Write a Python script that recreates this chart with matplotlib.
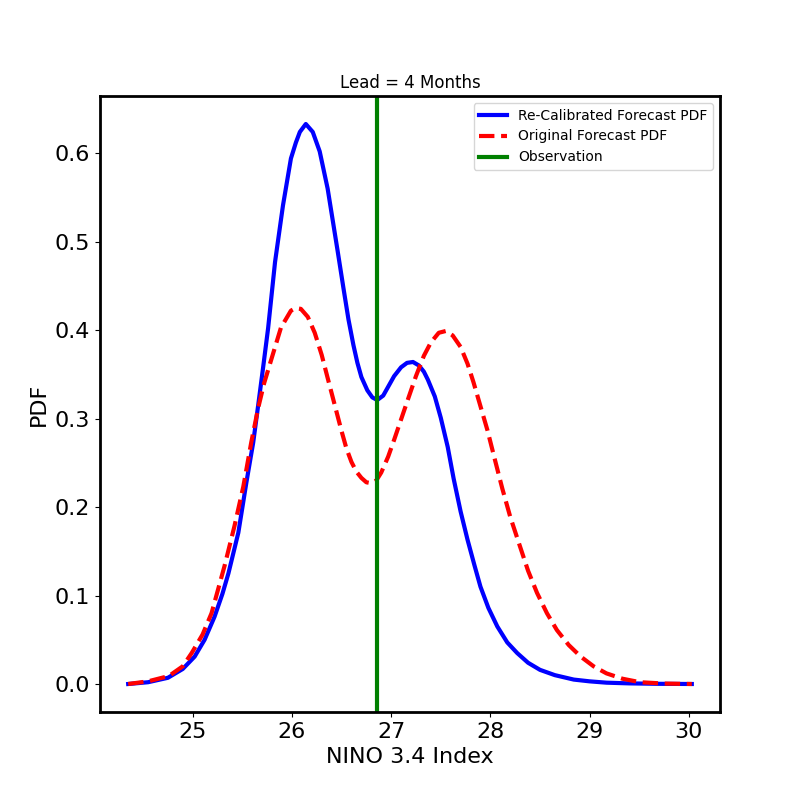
import matplotlib
matplotlib.use("Agg")
import matplotlib.pyplot as plt

# Re-calibrated forecast PDF (blue)
recal_x = [24.35, 24.55, 24.75, 24.90, 25.02, 25.12, 25.22, 25.30, 25.36, 25.46,
           25.54, 25.61, 25.66, 25.71, 25.76, 25.83, 25.91, 25.99, 26.04, 26.08,
           26.14, 26.21, 26.28, 26.36, 26.46, 26.52, 26.57, 26.62, 26.66, 26.70,
           26.76, 26.81, 26.86, 26.92, 26.97, 27.03, 27.10, 27.16, 27.22, 27.28,
           27.33, 27.37, 27.44, 27.50, 27.57, 27.63, 27.70, 27.77, 27.84, 27.90,
           27.98, 28.07, 28.17, 28.27, 28.38, 28.50, 28.65, 28.84, 29.00, 29.17,
           29.40, 29.70, 30.03]
recal_y = [0.000, 0.002, 0.007, 0.017, 0.031, 0.050, 0.076, 0.102, 0.125, 0.171,
           0.227, 0.273, 0.315, 0.358, 0.402, 0.477, 0.541, 0.594, 0.612, 0.624,
           0.633, 0.624, 0.602, 0.560, 0.490, 0.447, 0.412, 0.383, 0.363, 0.347,
           0.332, 0.324, 0.321, 0.326, 0.336, 0.348, 0.358, 0.363, 0.364, 0.360,
           0.353, 0.344, 0.325, 0.301, 0.268, 0.232, 0.195, 0.163, 0.134, 0.110,
           0.086, 0.065, 0.047, 0.035, 0.024, 0.016, 0.010, 0.005, 0.003, 0.0015,
           0.0007, 0.0002, 0.000]

# Original forecast PDF (red dashed)
orig_x = [24.35, 24.55, 24.76, 24.90, 24.99, 25.10, 25.19, 25.32, 25.42, 25.51,
          25.59, 25.66, 25.72, 25.79, 25.89, 25.99, 26.04, 26.09, 26.16, 26.23,
          26.30, 26.36, 26.43, 26.50, 26.55, 26.60, 26.65, 26.70, 26.75, 26.80,
          26.85, 26.90, 26.97, 27.03, 27.10, 27.17, 27.25, 27.33, 27.40, 27.48,
          27.55, 27.62, 27.70, 27.77, 27.83, 27.90, 27.97, 28.04, 28.12, 28.20,
          28.30, 28.38, 28.47, 28.57, 28.67, 28.79, 28.91, 29.04, 29.17, 29.33,
          29.51, 29.75, 30.03]
orig_y = [0.000, 0.003, 0.009, 0.020, 0.035, 0.056, 0.080, 0.133, 0.178, 0.223,
          0.273, 0.312, 0.340, 0.366, 0.403, 0.422, 0.425, 0.424, 0.415, 0.397,
          0.372, 0.346, 0.316, 0.286, 0.266, 0.251, 0.240, 0.233, 0.228, 0.227,
          0.230, 0.239, 0.257, 0.276, 0.299, 0.322, 0.348, 0.371, 0.386, 0.397,
          0.399, 0.394, 0.381, 0.362, 0.341, 0.314, 0.287, 0.256, 0.221, 0.189,
          0.155, 0.128, 0.103, 0.080, 0.061, 0.044, 0.031, 0.020, 0.012, 0.006,
          0.002, 0.0005, 0.000]

observation = 26.86
labels = ["Re-Calibrated Forecast PDF", "Original Forecast PDF", "Observation"]

fig, ax = plt.subplots(figsize=(8, 8), dpi=100)
ax.plot(recal_x, recal_y, color="blue", linewidth=3, label=labels[0])
ax.plot(orig_x, orig_y, color="red", linestyle="--", linewidth=3, label=labels[1])
ax.axvline(observation, color="green", linewidth=3, label=labels[2])

ax.set_title("Lead = 4 Months", fontsize=12)
ax.set_xlabel("NINO 3.4 Index", fontsize=16)
ax.set_ylabel("PDF", fontsize=16)
ax.tick_params(labelsize=16)
for s in ax.spines.values():
    s.set_linewidth(2)
ax.legend(loc="upper right", fontsize=10)

fig.savefig("out.png", dpi=100)
